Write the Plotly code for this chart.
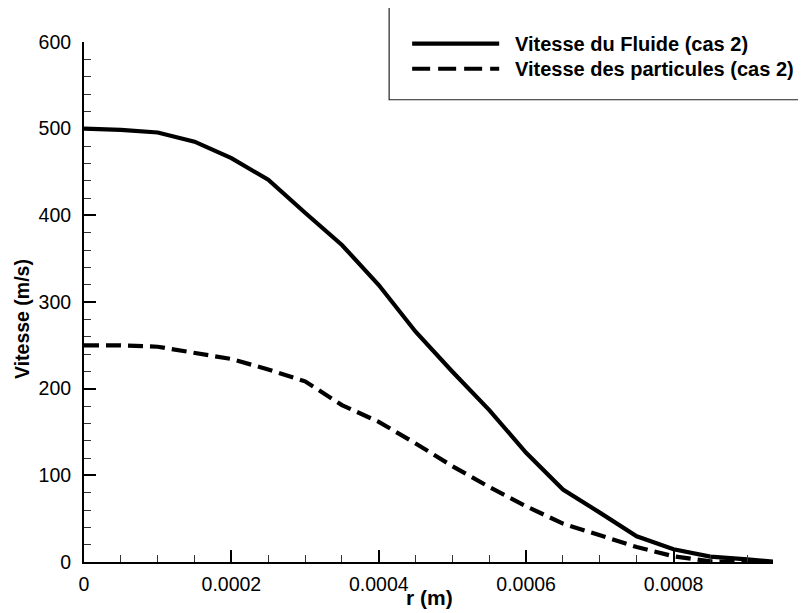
import plotly.graph_objects as go

# Data
r_m = [0, 0.00005, 0.0001, 0.00015, 0.0002, 0.00025, 0.0003, 0.00035, 0.0004,
       0.00045, 0.0005, 0.00055, 0.0006, 0.00065, 0.0007, 0.00075, 0.0008,
       0.00085, 0.0009, 0.000935]
v_fluide = [500, 498.7, 495.6, 485, 466, 441, 403, 365.8, 319.6, 265.7, 219.5,
            175.2, 126, 83.6, 57, 29.7, 14.7, 6.2, 3.1, 0.5]
v_particules = [250, 250, 248.4, 241.9, 234.2, 222.2, 208.5, 181, 161.7, 136.8,
                110.5, 86.6, 64.3, 44.3, 30.8, 17.3, 6.6, 0.8, 0, 0]

name_fluide = "Vitesse du Fluide (cas 2)"
name_part = "Vitesse des particules (cas 2)"
x_title = "r (m)"
y_title = "Vitesse (m/s)"

FONT = "Liberation Sans, Arial, sans-serif"

# the page body adds an 8px margin; compensate so the figure lands where the reference is
OFF = 8
W, H = 806 - OFF, 613 - OFF
# reference page-pixel geometry of the plot area
PL, PR, PT, PB = 84, 772.7, 42.3, 561.7
L, R, T, B = PL - OFF, 806 - PR, PT - OFF, 613 - PB
pw, ph = PR - PL, PB - PT

def px(x):
    return (x - PL) / pw

def py(y):
    return (PB - y) / ph

fig = go.Figure()
fig.add_trace(go.Scatter(x=r_m, y=v_fluide, mode="lines", name=name_fluide,
                         line=dict(color="black", width=4.2), showlegend=False))
fig.add_trace(go.Scatter(x=r_m, y=v_particules, mode="lines", name=name_part,
                         line=dict(color="black", width=4.2, dash="15px,7px"),
                         showlegend=False))

axis_common = dict(showline=True, linewidth=2, linecolor="black", mirror=False,
                   showgrid=False, zeroline=False, ticks="inside", ticklen=12,
                   tickwidth=2, tickcolor="black", automargin=False,
                   tickfont=dict(family=FONT, size=19.5, color="black"))

fig.update_xaxes(range=[0, 0.000935], tick0=0, dtick=0.0002, tickformat="~g",
                 minor=dict(dtick=0.00005, tick0=0, ticks="inside", ticklen=7,
                            tickwidth=1, tickcolor="#333"),
                 ticklabelstandoff=4, **axis_common)
fig.update_yaxes(range=[0, 600], tick0=0, dtick=100,
                 minor=dict(dtick=20, tick0=0, ticks="inside", ticklen=7,
                            tickwidth=1, tickcolor="#333"),
                 ticklabelstandoff=7, **axis_common)

# Manual legend box
fig.add_shape(type="rect", xref="paper", yref="paper",
              x0=px(389), x1=px(812), y0=py(100), y1=py(4),
              line=dict(color="#222", width=1.2), fillcolor="white", layer="above")
fig.add_shape(type="line", xref="paper", yref="paper",
              x0=px(412), x1=px(499), y0=py(44), y1=py(44),
              line=dict(color="black", width=4.2), layer="above")
fig.add_shape(type="line", xref="paper", yref="paper",
              x0=px(412), x1=px(499), y0=py(69), y1=py(69),
              line=dict(color="black", width=4.2, dash="18px,8px"), layer="above")

ann = []
for text, yy in [(name_fluide, 44), (name_part, 69)]:
    ann.append(dict(text="<b>%s</b>" % text, xref="paper", yref="paper",
                    x=px(513), y=py(yy), xanchor="left", yanchor="middle",
                    showarrow=False, font=dict(family=FONT, size=20, color="black")))
ann.append(dict(text="<b>%s</b>" % x_title, xref="paper", yref="paper",
                x=px(429), y=py(597), xanchor="center", yanchor="middle",
                showarrow=False, font=dict(family=FONT, size=21, color="black")))
ann.append(dict(text="<b>%s</b>" % y_title, xref="paper", yref="paper",
                x=px(22), y=py(319), xanchor="center", yanchor="middle",
                textangle=-90, showarrow=False,
                font=dict(family=FONT, size=19.5, color="black")))

fig.update_layout(width=W, height=H, margin=dict(l=L, r=R, t=T, b=B, pad=0, autoexpand=False),
                  paper_bgcolor="white", plot_bgcolor="white",
                  annotations=ann, showlegend=False,
                  font=dict(family=FONT, color="black"))

fig.write_html("out.html")
